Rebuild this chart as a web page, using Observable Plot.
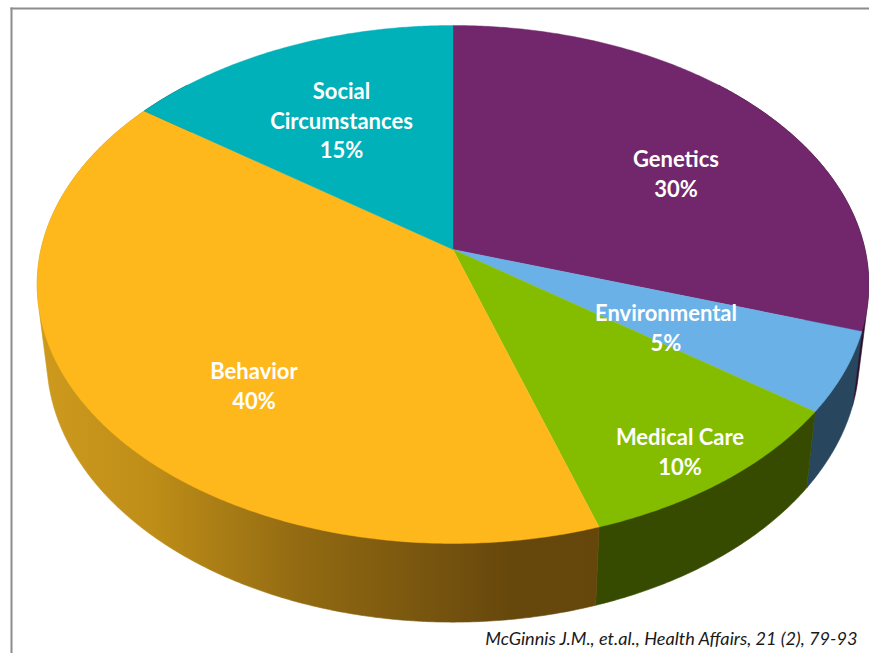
<!DOCTYPE html>
<html>
<head>
<meta charset="utf-8">
<style>html,body{margin:0;padding:0;background:#fff}svg{display:block}</style>
<script src="https://cdn.jsdelivr.net/npm/d3@7"></script>
<script src="https://cdn.jsdelivr.net/npm/@observablehq/plot@0.6"></script>
</head>
<body>
<div id="chart"></div>
<script>
// Data
const categories = ["Genetics", "Environmental", "Medical Care", "Behavior", "Social\nCircumstances"];
const shares = [30, 5, 10, 40, 15];
const faceColors = ["#72276C", "#69B1E7", "#84BD00", "#FFB81C", "#00B1B9"];
const wallColors = ["#2D0F2B", "#28465E", "#364B00", "url(#behaviorWall)", "#00474A"];
const caption = "McGinnis J.M., et.al., Health Affairs, 21 (2), 79-93";

// Label placement (separate from the values)
const labelX = [675.5, 665.5, 679.5, 253.5, 341];
const labelY = [172, 326, 450, 384, 119];

// Behavior wall shading: position along x, colour
const shadeAt = [50, 150, 300, 440, 510, 595];
const shadeColor = ["#CC991D", "#BF8E18", "#926A12", "#75530F", "#67480C", "#65470C"];

// Tilted pie: a circle seen in perspective, then extruded downward
const cx = 452.5, cy = 249, rx = 412, ry = 254.3, persp = -0.135;
const shrink = 0.977, drop = 76, stretch = 0.02, pivotY = 411;

function rim(theta) {
  const X = Math.sin(theta), Y = -Math.cos(theta), d = 1 + persp * Y;
  return [cx + rx * X / d, cy + ry * Y / d];
}
function lower([x, y]) {
  return [cx + shrink * (x - cx), y + drop + stretch * (y - pivotY)];
}
function arc(a0, a1) {
  const n = Math.max(2, Math.ceil((a1 - a0) / (Math.PI / 360)));
  return d3.range(n + 1).map(i => rim(a0 + (a1 - a0) * i / n));
}

const total = d3.sum(shares);
const slices = [];
let running = 0;
categories.forEach((name, i) => {
  const a0 = running / total * 2 * Math.PI;
  running += shares[i];
  const a1 = running / total * 2 * Math.PI;
  slices.push({name, share: shares[i], a0, a1, face: faceColors[i], wall: wallColors[i]});
});

const frontLimitStart = Math.PI * 0.25, frontLimitEnd = Math.PI * 1.75;
const wallMarks = slices.map(s => {
  const a0 = Math.max(s.a0, frontLimitStart), a1 = Math.min(s.a1, frontLimitEnd);
  if (a1 <= a0) return null;
  const top = arc(a0, a1);
  const hull = d3.polygonHull([...top, ...top.map(lower)]);
  return Plot.line([...hull, hull[0]], {x: d => d[0], y: d => d[1], fill: s.wall, stroke: s.wall, strokeWidth: 0.6});
}).filter(Boolean);

const faceMarks = slices.map(s => {
  const pts = [[cx, cy], ...arc(s.a0, s.a1), [cx, cy]];
  return Plot.line(pts, {x: d => d[0], y: d => d[1], fill: s.face, stroke: s.face, strokeWidth: 0.4});
});

const labels = slices.map((s, i) => ({text: `${s.name}\n${s.share}%`, x: labelX[i], y: labelY[i]}));

const defs = (index, {x}) => {
  const d = d3.create("svg:defs");
  const g = d.append("linearGradient").attr("id", "behaviorWall")
    .attr("gradientUnits", "userSpaceOnUse")
    .attr("x1", x(shadeAt[0])).attr("x2", x(shadeAt[shadeAt.length - 1]))
    .attr("y1", 0).attr("y2", 0);
  shadeAt.forEach((v, i) => g.append("stop")
    .attr("offset", (v - shadeAt[0]) / (shadeAt[shadeAt.length - 1] - shadeAt[0]))
    .attr("stop-color", shadeColor[i]));
  return d.node();
};

const chart = Plot.plot({
  width: 869, height: 653,
  marginLeft: 11, marginTop: 8, marginRight: 0, marginBottom: 0,
  x: {domain: [11, 869], axis: null},
  y: {domain: [653, 8], range: [653, 8], axis: null},
  style: {background: "#fff"},
  marks: [
    defs,
    Plot.frame({anchor: "left", stroke: "#8C8C8C", strokeWidth: 2, strokeOpacity: 1}),
    Plot.frame({anchor: "top", stroke: "#8C8C8C", strokeWidth: 2, strokeOpacity: 1}),
    ...wallMarks,
    ...faceMarks,
    Plot.text(labels, {
      x: "x", y: "y", text: "text", fill: "#fff",
      fontFamily: "Lato", fontWeight: 700, fontSize: 22, lineHeight: 1.34
    }),
    Plot.text([caption], {
      frameAnchor: "bottom-right", dx: -12, dy: -9, text: d => d, fill: "#1a1a1a",
      fontFamily: "Lato", fontStyle: "italic", fontSize: 18.15, lineAnchor: "bottom"
    })
  ]
});
document.getElementById("chart").append(chart);
</script>
</body>
</html>
